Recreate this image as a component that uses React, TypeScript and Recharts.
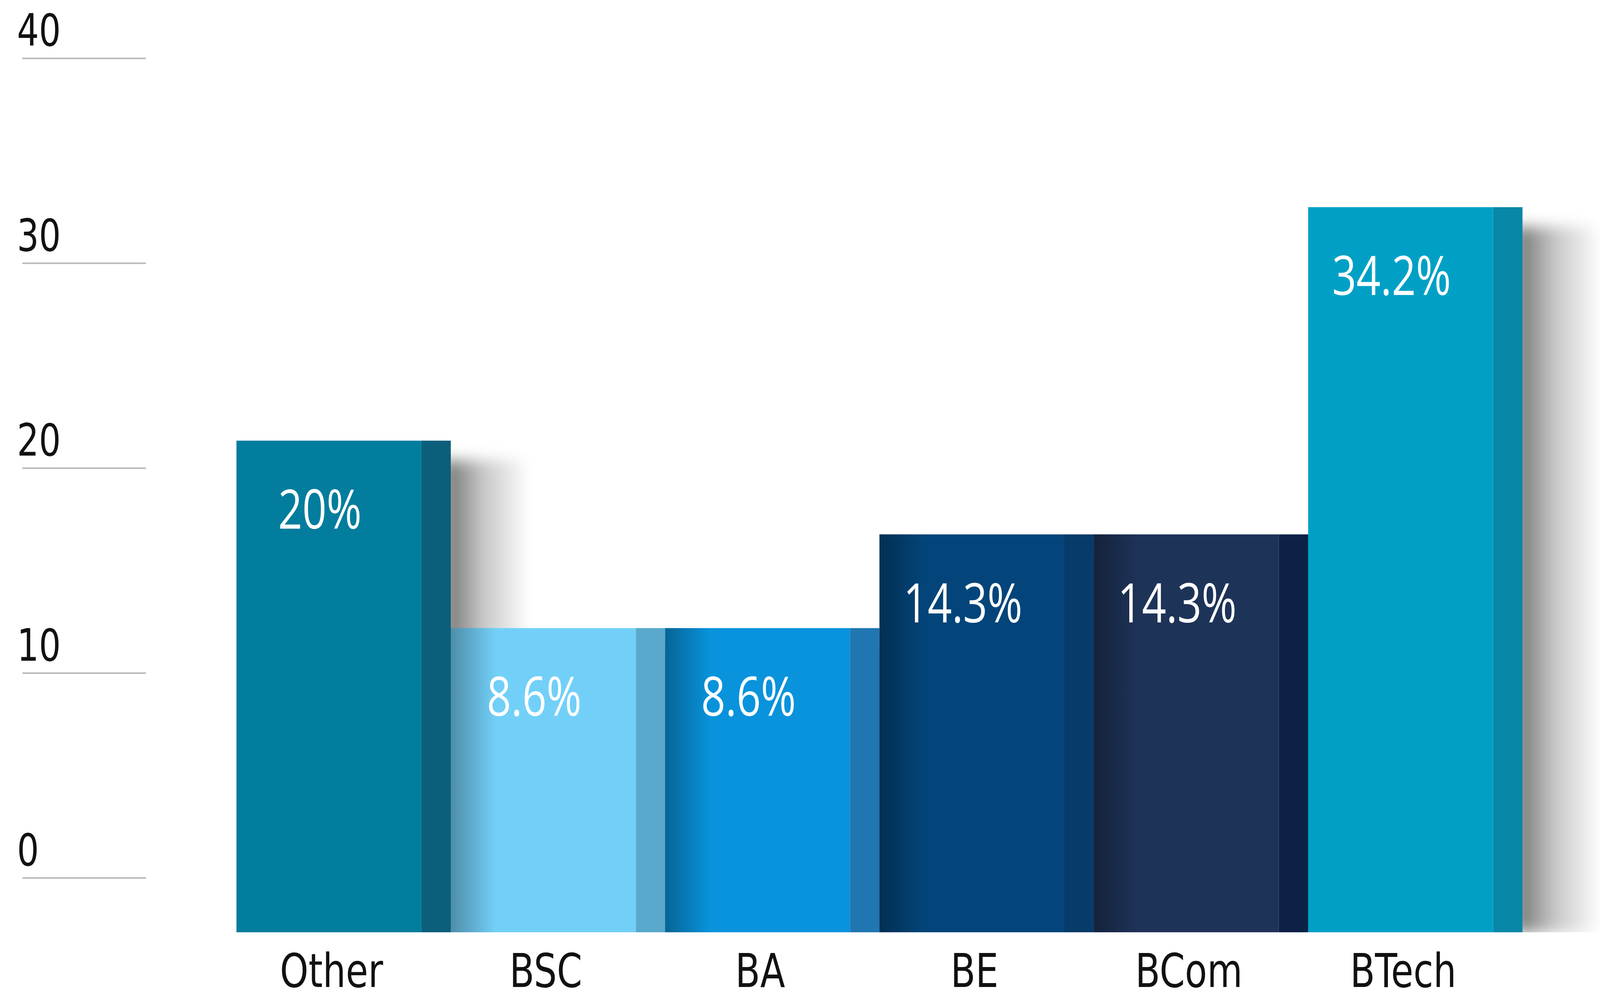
import { BarChart, Bar, XAxis, YAxis, LabelList } from "recharts";

// degree shares
const CATEGORIES = ["Other", "BSC", "BA", "BE", "BCom", "BTech"];
const SHARES = [20, 8.6, 8.6, 14.3, 14.3, 34.2];
const Y_TICKS = [0, 10, 20, 30, 40];

const FRONT_COLORS = ["#027d9d", "#72d0f8", "#0893dc", "#03457a", "#1e3358", "#00a0c6"];
const SIDE_COLORS = ["#0b5f7a", "#5aa9cd", "#1f76b1", "#073b69", "#0d2146", "#0887a7"];

const W = 5285;
const H = 2567;
const SIDE_W = 97;
// the bars in the original rise from below zero, the visible scale is drawn separately
const BAR_FLOOR = -9.9;
const BAR_TOP = 46.8;
const FONT = "'DejaVu Sans', sans-serif";

const data = CATEGORIES.map((name, i) => ({ name, share: SHARES[i] }));

function BarShape(props: any) {
  const { x, y, width, height, index } = props;
  const front = width - SIDE_W;
  // shadow from the previous bar falls on the left edge (not on the last one)
  const shaded = index > 0 && index < CATEGORIES.length - 1;
  return (
    <g>
      <defs>
        <linearGradient id={`cast-${index}`} x1="0" y1="0" x2="1" y2="0">
          <stop offset="0%" stopColor="#000" stopOpacity={0.55} />
          <stop offset="45%" stopColor="#000" stopOpacity={0.22} />
          <stop offset="100%" stopColor="#000" stopOpacity={0} />
        </linearGradient>
        <linearGradient id={`shade-${index}`} x1="0" y1="0" x2="1" y2="0">
          <stop offset="0%" stopColor="#000" stopOpacity={0.32} />
          <stop offset="100%" stopColor="#000" stopOpacity={0} />
        </linearGradient>
        <filter id={`soft-${index}`} x="-30%" y="-30%" width="160%" height="160%">
          <feGaussianBlur stdDeviation="18" />
        </filter>
      </defs>
      <rect
        x={x + width - 20}
        y={y + 50}
        width={280}
        height={Math.max(height - 50, 0)}
        fill={`url(#cast-${index})`}
        filter={`url(#soft-${index})`}
      />
      <rect x={x} y={y} width={front} height={height} fill={FRONT_COLORS[index]} />
      <rect x={x + front} y={y} width={SIDE_W} height={height} fill={SIDE_COLORS[index]} />
      {shaded && <rect x={x} y={y} width={150} height={height} fill={`url(#shade-${index})`} />}
    </g>
  );
}

function ValueLabel(props: any) {
  const box = props.viewBox ?? props;
  const { x, y, width } = box;
  const cx = x + (width - SIDE_W) / 2 - 30;
  return (
    <text
      x={cx}
      y={y + 225}
      textAnchor="middle"
      fill="#ffffff"
      fontFamily="'Open Sans', sans-serif"
      fontSize={140}
    >
      {`${props.value}%`}
    </text>
  );
}

function AxisTick(props: any) {
  const { y, payload } = props;
  return (
    <g>
      <line x1={74} x2={482} y1={y} y2={y} stroke="#b9b9b9" strokeWidth={4} />
      <text x={56} y={y - 32} fontFamily={FONT} fontSize={114} fill="#111">
        {payload.value}
      </text>
    </g>
  );
}

function CategoryTick(props: any) {
  const { x, y, payload } = props;
  return (
    <text x={x - 40} y={y + 132} textAnchor="middle" fontFamily={FONT} fontSize={120} fill="#111">
      {payload.value}
    </text>
  );
}

export default function App() {
  // the browser may give a narrower window than asked for, squeeze to fit
  const fit = typeof window !== "undefined" ? Math.min(1, window.innerWidth / W) : 1;
  return (
    <div
      style={{
        position: "absolute",
        left: 0,
        top: 0,
        width: W,
        height: H,
        background: "#fff",
        transform: `scaleX(${fit})`,
        transformOrigin: "0 0",
      }}
    >
      <BarChart
        width={W}
        height={H}
        data={data}
        margin={{ top: 0, right: 256, bottom: 0, left: 0 }}
        barCategoryGap={0}
        barGap={0}
      >
        <XAxis
          dataKey="name"
          axisLine={false}
          tickLine={false}
          interval={0}
          height={181}
          tick={<CategoryTick />}
        />
        <YAxis
          yAxisId="ticks"
          type="number"
          domain={[-2.65, 42.85]}
          ticks={Y_TICKS}
          allowDataOverflow
          width={781}
          axisLine={false}
          tickLine={false}
          tick={<AxisTick />}
        />
        <YAxis yAxisId="bars" type="number" domain={[BAR_FLOOR, BAR_TOP]} allowDataOverflow hide />
        <Bar
          yAxisId="bars"
          dataKey={(d: any) => [BAR_FLOOR, d.share]}
          shape={<BarShape />}
          isAnimationActive={false}
        >
          <LabelList dataKey="share" content={<ValueLabel />} />
        </Bar>
      </BarChart>
    </div>
  );
}
